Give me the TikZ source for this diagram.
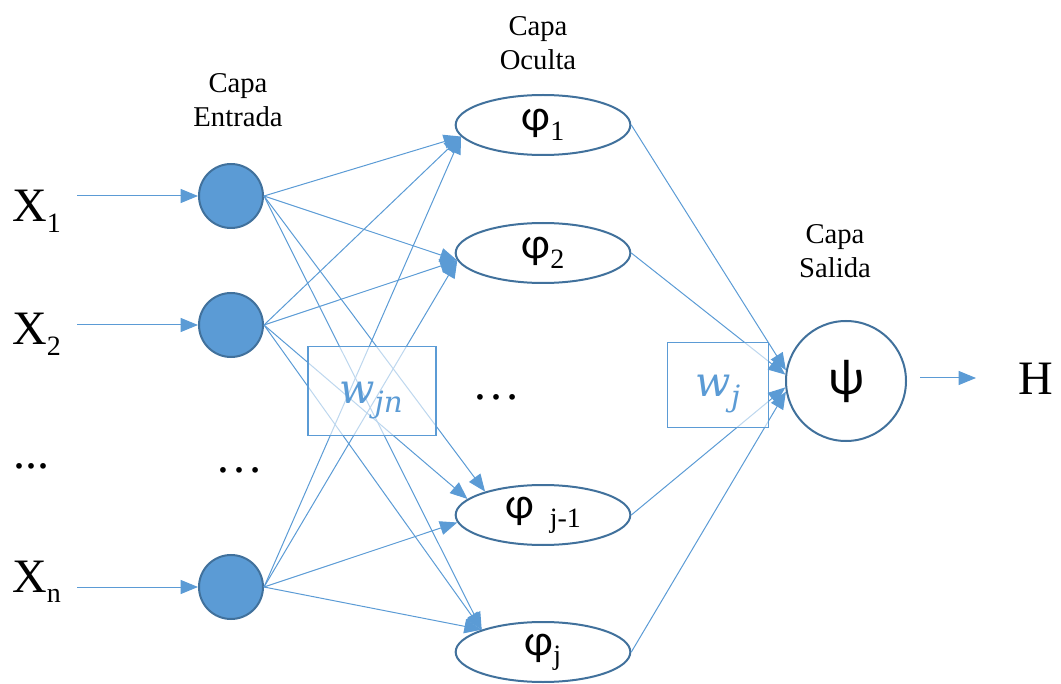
\documentclass[tikz,border=0pt]{standalone}
\usepackage{fontspec}
\setmainfont{Liberation Serif}
\newfontfamily\grk{Carlito}
\newfontfamily\wfont{DejaVu Serif}
\usetikzlibrary{arrows.meta,shapes.geometric}
\definecolor{lblue}{HTML}{5B9BD5}
\definecolor{dblue}{HTML}{41719C}
\begin{document}
\begin{tikzpicture}[x=0.75pt,y=-0.75pt,
  every node/.style={inner sep=0pt},
  incirc/.style={circle, fill=lblue, draw=dblue, line width=1.5pt, minimum size=48pt},
  hid/.style={ellipse, draw=dblue, line width=1.5pt, minimum width=131pt, minimum height=45pt, font=\fontsize{33}{33}\selectfont},
  outc/.style={circle, draw=dblue, line width=1.5pt, minimum size=90pt, font=\fontsize{38}{38}\selectfont},
  wbox/.style={draw=lblue, line width=1.2pt, fill=white, fill opacity=0.6},
  wlab/.style={text=lblue, font=\wfont\itshape\fontsize{31}{31}\selectfont},
  conn/.style={draw=lblue, line width=0.75pt, -{Triangle[length=13pt,width=10.5pt]}},
  lbl/.style={align=center, font=\fontsize{21.5}{26}\selectfont},
  big/.style={font=\fontsize{36}{36}\selectfont}
]
\useasboundingbox (0,0) rectangle (1061,684);

% layer labels
\node[lbl] (lin) at (238,100) {Capa\\Entrada};
\node[lbl] (lhid) at (538,43) {Capa\\Oculta};
\node[lbl] (lout) at (835,251) {Capa\\Salida};

% input labels
\node[big, anchor=base west] (x1) at (12,222) {X\raisebox{-8pt}{\fontsize{21}{21}\selectfont 1}};
\node[big, anchor=base west] (x2) at (12,345) {X\raisebox{-8pt}{\fontsize{21}{21}\selectfont 2}};
\node[big, anchor=base west] (xd) at (13,468) {...};
\node[big, anchor=base west] (xn) at (12,592) {X\raisebox{-8pt}{\fontsize{21}{21}\selectfont n}};

% input neurons
\node[incirc] (i1) at (231,196) {};
\node[incirc] (i2) at (231,325) {};
\node[big, anchor=base] (id) at (239,472) {\char"2026};
\node[incirc] (in) at (231,587) {};

% hidden neurons
\node[hid] (h1) at (543,125) {\raisebox{-3pt}{{\grk φ}\raisebox{-7pt}{\fontsize{21}{21}\selectfont 1}}};
\node[hid] (h2) at (543,253) {\raisebox{-3pt}{{\grk φ}\raisebox{-7pt}{\fontsize{21}{21}\selectfont 2}}};
\node[big, anchor=base] (hd) at (496,400) {\char"2026};
\node[hid] (hjm) at (543,515) {\raisebox{-3pt}{{\grk φ}\hspace{12pt}\raisebox{-7pt}{\fontsize{21}{21}\selectfont j-1}}};
\node[hid] (hj) at (543,652) {\raisebox{-3pt}{{\grk φ}\raisebox{-7pt}{\fontsize{21}{21}\selectfont j}}};

% output neuron
\node[outc] (out) at (846,381) {\raisebox{-6pt}{\grk ψ}};
\node[big, anchor=base west] (H) at (1018,395) {H};

% input arrows
\coordinate (a1) at (77,196);
\coordinate (a2) at (77,325);
\coordinate (an) at (77,587);
\draw[conn] (a1) -- (i1);
\draw[conn] (a2) -- (i2);
\draw[conn] (an) -- (in);

% input -> hidden
\foreach \s in {i1,i2,in}{
  \draw[conn] (\s.east) -- (h1.188);
  \draw[conn] (\s.east) -- (h2.185);
  \draw[conn] (\s.east) -- (hj.160);
}
\draw[conn] (i1.east) -- (hjm.158);
\draw[conn] (i2.east) -- (hjm.168);
\draw[conn] (in.east) -- (hjm.185);

% hidden -> output
\draw[conn] (h1.east) -- (out.170);
\draw[conn] (h2.east) -- (out.174);
\draw[conn] (hjm.east) -- (out.186);
\draw[conn] (hj.east) -- (out.190);

% output arrow
\coordinate (ha) at (920,378);
\coordinate (hb) at (976,378);
\draw[conn] (ha) -- (hb);

% weight boxes
\node[wbox, minimum width=96pt, minimum height=67pt] (wjn) at (372,391) {};
\node[wbox, minimum width=76pt, minimum height=64pt] (wj) at (718,385) {};
\node[wlab, anchor=base] (wjnt) at (371,403) {w\raisebox{-7pt}{\fontsize{22}{22}\selectfont jn}};
\node[wlab, anchor=base] (wjt) at (718,397) {w\raisebox{-7pt}{\fontsize{22}{22}\selectfont j}};
\end{tikzpicture}
\end{document}
